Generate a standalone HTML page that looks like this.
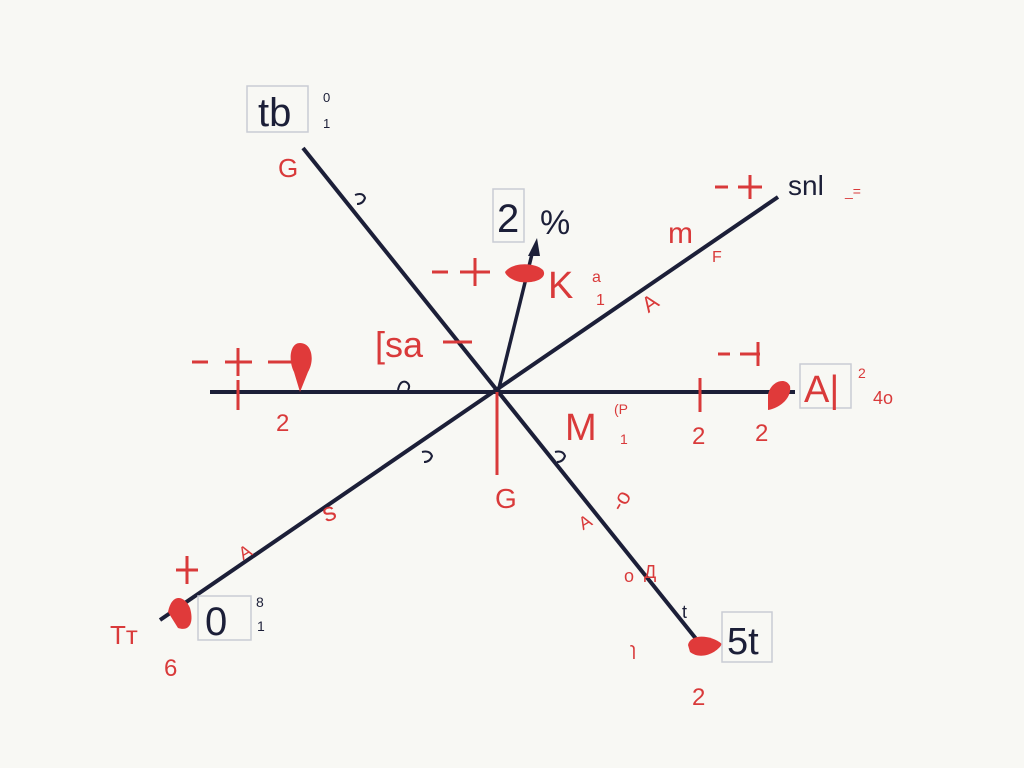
<!DOCTYPE html>
<html><head><meta charset="utf-8"><style>
html,body{margin:0;padding:0;background:#f8f8f4;}
svg{display:block}
text{font-family:"Liberation Sans","DejaVu Sans",sans-serif}
</style></head><body>
<svg width="1024" height="768" viewBox="0 0 1024 768" xmlns="http://www.w3.org/2000/svg">
<rect width="1024" height="768" fill="#f8f8f4"/>
<g stroke="#1c1f38" stroke-width="4" stroke-linecap="butt">
<line x1="303" y1="148" x2="697" y2="640"/>
<line x1="160" y1="620" x2="778" y2="197"/>
<line x1="210" y1="392" x2="795" y2="392"/>
<line x1="498" y1="392" x2="533" y2="250" stroke-width="3.5"/>
</g>
<polygon points="537,238 528,256 540,256" fill="#1c1f38"/>
<g stroke="#1c1f38" stroke-width="2" fill="none">
<path d="M355,195 q8,-3 10,3 q-2,6 -8,6"/>
<path d="M398,390 q2,-10 8,-8 q5,3 2,8"/>
<path d="M422,452 q8,-2 10,4 q-2,6 -8,6"/>
<path d="M555,452 q8,-2 10,4 q-2,6 -8,6"/>
</g>
<g stroke="#d93a3a" stroke-width="3" fill="none">
<line x1="497" y1="392" x2="497" y2="475"/>
<line x1="238" y1="380" x2="238" y2="410"/>
<line x1="700" y1="378" x2="700" y2="412"/>
<line x1="192" y1="362" x2="208" y2="362"/>
<line x1="225" y1="362" x2="252" y2="362"/>
<line x1="238" y1="348" x2="238" y2="376"/>
<line x1="268" y1="362" x2="292" y2="362"/>
<line x1="432" y1="272" x2="448" y2="272"/>
<line x1="460" y1="272" x2="490" y2="272"/>
<line x1="475" y1="258" x2="475" y2="286"/>
<line x1="715" y1="187" x2="728" y2="187"/>
<line x1="738" y1="187" x2="762" y2="187"/>
<line x1="750" y1="175" x2="750" y2="199"/>
<line x1="718" y1="354" x2="730" y2="354"/>
<line x1="740" y1="354" x2="760" y2="354"/>
<line x1="758" y1="342" x2="758" y2="366"/>
<line x1="176" y1="570" x2="198" y2="570"/>
<line x1="187" y1="556" x2="187" y2="584"/>
<line x1="443" y1="342" x2="472" y2="342"/>
</g>
<g fill="#e03a3a">
<path d="M300,343 C312,343 315,360 308,372 L300,392 L294,372 C288,360 290,343 300,343Z"/>
<path d="M505,272 C512,262 535,262 543,270 C548,278 535,284 520,282 C512,280 506,276 505,272Z"/>
<path d="M768,395 C770,382 785,376 790,386 C792,398 780,408 768,410Z"/>
<path d="M168,612 C172,592 185,596 190,608 C194,622 190,632 178,628Z"/>
<path d="M688,645 C690,634 710,634 722,644 C716,654 700,660 690,652Z"/>
</g>
<rect x="247" y="86" width="61" height="46" fill="none" stroke="#c9ccd4" stroke-width="1.5"/>
<text x="258" y="126" font-size="40" fill="#1c1f38">tb</text>
<text x="323" y="102" font-size="13" fill="#1c1f38">0</text>
<text x="323" y="128" font-size="13" fill="#1c1f38">1</text>
<rect x="493" y="189" width="31" height="53" fill="none" stroke="#c9ccd4" stroke-width="1.5"/>
<text x="497" y="232" font-size="40" fill="#1c1f38">2</text>
<text x="540" y="234" font-size="34" fill="#1c1f38">%</text>
<text x="278" y="177" font-size="26" fill="#d93a3a">G</text>
<text x="375" y="357" font-size="36" fill="#d93a3a">[sa</text>
<text x="548" y="298" font-size="38" fill="#d93a3a">K</text>
<text x="592" y="282" font-size="16" fill="#d93a3a">a</text>
<text x="596" y="305" font-size="16" fill="#d93a3a">1</text>
<text x="668" y="243" font-size="30" fill="#d93a3a">m</text>
<text x="712" y="262" font-size="16" fill="#d93a3a">F</text>
<text x="788" y="195" font-size="28" fill="#1c1f38">snl</text>
<text x="845" y="196" font-size="14" fill="#d93a3a">_=</text>
<text x="641" y="310" font-size="22" fill="#d93a3a" transform="rotate(-35 650 300)">A</text>
<rect x="800" y="364" width="51" height="44" fill="none" stroke="#c9ccd4" stroke-width="1.5"/>
<text x="804" y="402" font-size="38" fill="#d93a3a">A|</text>
<text x="858" y="378" font-size="14" fill="#d93a3a">2</text>
<text x="873" y="404" font-size="18" fill="#d93a3a">4o</text>
<text x="276" y="431" font-size="24" fill="#d93a3a">2</text>
<text x="692" y="444" font-size="24" fill="#d93a3a">2</text>
<text x="755" y="441" font-size="24" fill="#d93a3a">2</text>
<text x="565" y="440" font-size="38" fill="#d93a3a">M</text>
<text x="614" y="414" font-size="14" fill="#d93a3a">(P</text>
<text x="620" y="444" font-size="14" fill="#d93a3a">1</text>
<text x="495" y="508" font-size="28" fill="#d93a3a">G</text>
<text x="320" y="520" font-size="26" fill="#d93a3a" transform="rotate(-20 330 505)">s</text>
<text x="238" y="558" font-size="18" fill="#d93a3a" transform="rotate(-30 245 550)">A</text>
<text x="578" y="528" font-size="18" fill="#d93a3a" transform="rotate(-30 585 520)">A</text>
<text x="610" y="508" font-size="22" fill="#d93a3a" transform="rotate(-60 620 500)">-o</text>
<text x="624" y="582" font-size="18" fill="#d93a3a">o</text>
<text x="644" y="578" font-size="18" fill="#d93a3a">Д</text>
<text x="630" y="655" font-size="18" fill="#d93a3a">ɿ</text>
<rect x="198" y="596" width="53" height="44" fill="none" stroke="#c9ccd4" stroke-width="1.5"/>
<text x="205" y="635" font-size="40" fill="#1c1f38">0</text>
<text x="256" y="607" font-size="14" fill="#1c1f38">8</text>
<text x="257" y="631" font-size="14" fill="#1c1f38">1</text>
<text x="110" y="644" font-size="26" fill="#d93a3a">Tт</text>
<text x="164" y="676" font-size="24" fill="#d93a3a">6</text>
<rect x="722" y="612" width="50" height="50" fill="none" stroke="#c9ccd4" stroke-width="1.5"/>
<text x="727" y="654" font-size="38" fill="#1c1f38">5t</text>
<text x="692" y="705" font-size="24" fill="#d93a3a">2</text>
<text x="682" y="618" font-size="18" fill="#1c1f38">t</text>
</svg>
</body></html>
